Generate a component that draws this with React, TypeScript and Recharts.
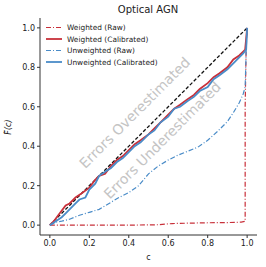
import { LineChart, Line, XAxis, YAxis, Label, ReferenceDot } from 'recharts'

const ticks = [0, 0.2, 0.4, 0.6, 0.8, 1.0]

const diagC = [0, 1]
const diagF = [0, 1]

const wRawC = [0, 0.2, 0.4, 0.55, 0.62, 0.7, 0.8, 0.9, 0.97, 0.99, 0.99, 0.995, 1.0]
const wRawF = [0, 0, 0, 0.002, 0.008, 0.01, 0.012, 0.013, 0.015, 0.02, 0.6, 0.9, 1.0]

const wCalC = [0, 0.02, 0.05, 0.08, 0.1, 0.13, 0.16, 0.2, 0.23, 0.25, 0.28, 0.31, 0.34, 0.37, 0.4, 0.43, 0.46, 0.5, 0.53, 0.56, 0.6, 0.63, 0.66, 0.7, 0.73, 0.76, 0.8, 0.83, 0.86, 0.9, 0.93, 0.96, 0.98, 0.99, 1.0]
const wCalF = [0, 0.02, 0.06, 0.1, 0.11, 0.14, 0.16, 0.19, 0.23, 0.25, 0.26, 0.3, 0.33, 0.35, 0.38, 0.41, 0.43, 0.46, 0.49, 0.52, 0.56, 0.59, 0.61, 0.64, 0.66, 0.69, 0.72, 0.75, 0.77, 0.8, 0.84, 0.86, 0.88, 0.89, 1.0]

const uRawC = [0, 0.03, 0.06, 0.1, 0.15, 0.2, 0.25, 0.3, 0.35, 0.4, 0.45, 0.5, 0.55, 0.6, 0.65, 0.7, 0.75, 0.8, 0.85, 0.9, 0.93, 0.96, 0.98, 0.99, 0.995, 1.0]
const uRawF = [0, 0.015, 0.02, 0.03, 0.05, 0.065, 0.08, 0.11, 0.14, 0.165, 0.2, 0.26, 0.3, 0.33, 0.355, 0.375, 0.395, 0.43, 0.475, 0.525, 0.57, 0.62, 0.665, 0.7, 0.88, 1.0]

const uCalC = [0, 0.03, 0.06, 0.08, 0.1, 0.13, 0.15, 0.18, 0.2, 0.23, 0.25, 0.28, 0.31, 0.34, 0.37, 0.4, 0.43, 0.46, 0.5, 0.53, 0.56, 0.6, 0.63, 0.66, 0.7, 0.73, 0.76, 0.8, 0.83, 0.86, 0.9, 0.93, 0.96, 0.98, 0.995, 1.0]
const uCalF = [0, 0.02, 0.04, 0.06, 0.08, 0.11, 0.13, 0.14, 0.18, 0.21, 0.25, 0.27, 0.29, 0.32, 0.34, 0.37, 0.4, 0.42, 0.46, 0.48, 0.52, 0.55, 0.59, 0.6, 0.63, 0.65, 0.68, 0.7, 0.74, 0.76, 0.79, 0.82, 0.85, 0.87, 0.89, 1.0]

const RED = '#c8303a'
const BLUE = '#4a8cc8'
const FONT = 'DejaVu Sans, sans-serif'

const toPts = (c: number[], f: number[]) => c.map((x, i) => ({ c: x, v: f[i] }))

const legendItems = [
  { name: 'Weighted (Raw)', color: RED, dash: '5 2 1 2', width: 1.2 },
  { name: 'Weighted (Calibrated)', color: RED, dash: undefined, width: 1.8 },
  { name: 'Unweighted (Raw)', color: BLUE, dash: '5 2 1 2', width: 1.2 },
  { name: 'Unweighted (Calibrated)', color: BLUE, dash: undefined, width: 1.8 }
]

function waterText(text: string) {
  return (props: any) => {
    const vb = props.viewBox || {}
    const cx = (vb.x ?? 0) + (vb.width ?? 0) / 2
    const cy = (vb.y ?? 0) + (vb.height ?? 0) / 2
    return (
      <text
        x={cx}
        y={cy}
        transform={`rotate(-45 ${cx} ${cy})`}
        textAnchor="middle"
        dominantBaseline="central"
        fill="#c4c4c4"
        fontSize={14}
        fontFamily={FONT}
      >
        {text}
      </text>
    )
  }
}

export default function App() {
  return (
    <div style={{ position: 'absolute', left: 0, top: 0, width: 266, height: 267, background: '#fff', fontFamily: FONT }}>
      <svg width={266} height={267} style={{ position: 'absolute', left: 0, top: 0 }}>
        <text x={148} y={13} textAnchor="middle" fontSize={10} fill="#222">Optical AGN</text>
        <g transform="rotate(-90 11 127)">
          <text x={11} y={127} textAnchor="middle" fontSize={8} fill="#222" fontStyle="italic">F(c)</text>
          <text x={5.5} y={124} textAnchor="middle" fontSize={6} fill="#222">^</text>
        </g>
      </svg>
      <div style={{ position: 'absolute', left: 0, top: 0 }}>
        <LineChart width={266} height={267} margin={{ top: 18, right: 9, bottom: 0, left: 0 }}>
          <XAxis
            type="number"
            dataKey="c"
            domain={[-0.05, 1.05]}
            ticks={ticks}
            allowDataOverflow
            tickFormatter={(v: number) => v.toFixed(1)}
            tick={{ fontSize: 8, fill: '#222', fontFamily: FONT }}
            tickSize={3}
            tickMargin={2}
            stroke="#333"
            height={32}
          >
            <Label value="c" position="insideBottom" offset={7} fontSize={8} fill="#222" fontFamily={FONT} />
          </XAxis>
          <XAxis xAxisId="top" orientation="top" type="number" domain={[-0.05, 1.05]} tick={false} tickLine={false} stroke="#333" height={0} />
          <YAxis
            type="number"
            domain={[-0.05, 1.05]}
            ticks={ticks}
            allowDataOverflow
            tickFormatter={(v: number) => v.toFixed(1)}
            tick={{ fontSize: 8, fill: '#222', fontFamily: FONT }}
            tickSize={3}
            tickMargin={2}
            stroke="#333"
            width={40}
          />
          <YAxis yAxisId="right" orientation="right" type="number" domain={[-0.05, 1.05]} tick={false} tickLine={false} stroke="#333" width={0} />
          <ReferenceDot x={0.43} y={0.57} r={0} stroke="none" fill="none" label={waterText('Errors Overestimated')} />
          <ReferenceDot x={0.57} y={0.43} r={0} stroke="none" fill="none" label={waterText('Errors Underestimated')} />
          <Line data={toPts(diagC, diagF)} dataKey="v" stroke="#111" strokeWidth={1.3} strokeDasharray="3.5 2" dot={false} isAnimationActive={false} />
          <Line data={toPts(wRawC, wRawF)} dataKey="v" stroke={RED} strokeWidth={1.2} strokeDasharray="5 2 1 2" dot={false} isAnimationActive={false} />
          <Line data={toPts(uRawC, uRawF)} dataKey="v" stroke={BLUE} strokeWidth={1.2} strokeDasharray="5 2 1 2" dot={false} isAnimationActive={false} />
          <Line data={toPts(wCalC, wCalF)} dataKey="v" stroke={RED} strokeWidth={1.8} dot={false} isAnimationActive={false} />
          <Line data={toPts(uCalC, uCalF)} dataKey="v" stroke={BLUE} strokeWidth={1.8} dot={false} isAnimationActive={false} />
        </LineChart>
      </div>
      <svg width={266} height={267} style={{ position: 'absolute', left: 0, top: 0, pointerEvents: 'none' }}>
        {legendItems.map((it, i) => (
          <g key={it.name}>
            <line x1={46} x2={62} y1={27.5 + i * 11.5} y2={27.5 + i * 11.5} stroke={it.color} strokeWidth={it.width} strokeDasharray={it.dash} />
            <text x={67} y={27.5 + i * 11.5} dominantBaseline="central" fontSize={7.4} fill="#222" fontFamily={FONT}>
              {it.name}
            </text>
          </g>
        ))}
      </svg>
    </div>
  )
}
